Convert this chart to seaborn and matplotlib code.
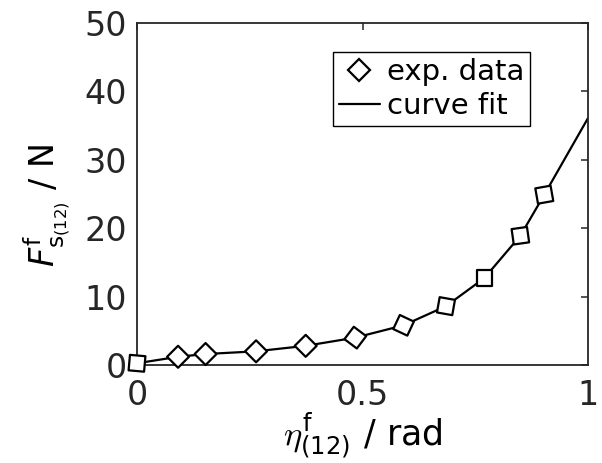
import matplotlib
matplotlib.use("Agg")
import matplotlib.pyplot as plt
from matplotlib.markers import MarkerStyle
from matplotlib.transforms import Affine2D
from matplotlib.lines import Line2D
import seaborn as sns
import pandas as pd

# ---- data ----
eta_exp = [0.0, 0.091, 0.152, 0.264, 0.374, 0.484, 0.591, 0.685, 0.770, 0.850, 0.903]
force_exp = [0.25, 1.2, 1.6, 2.0, 2.8, 4.0, 5.8, 8.6, 12.7, 18.9, 24.9]
eta_fit = [0.0, 0.091, 0.152, 0.264, 0.374, 0.484, 0.591, 0.685, 0.770, 0.850, 0.903, 1.0]
force_fit = [0.25, 1.2, 1.6, 2.0, 2.8, 4.0, 5.8, 8.6, 12.7, 18.9, 24.9, 36.1]
x_ticks = [0, 0.5, 1]
x_ticklabels = ["0", "0.5", "1"]
y_ticks = [0, 10, 20, 30, 40, 50]
y_ticklabels = ["0", "10", "20", "30", "40", "50"]

# style: per-marker rotation of the square markers as they appear in the image
marker_angles = [40, 0, 0, 0, 0, 8, 20, 35, 45, 53, 55]

sns.set_theme(style="white")
plt.rcParams["font.family"] = ["DejaVu Sans"]
plt.rcParams["mathtext.rm"] = "DejaVu Sans"
plt.rcParams["mathtext.it"] = "cmmi10"
plt.rcParams["mathtext.bf"] = "DejaVu Sans:bold"

df_exp = pd.DataFrame({"eta": eta_exp, "F": force_exp})
df_fit = pd.DataFrame({"eta": eta_fit, "F": force_fit})

fig = plt.figure(figsize=(6.02, 4.63), dpi=100)
ax = fig.add_axes([0.2276, 0.2117, 0.7492, 0.7386])

sns.lineplot(data=df_fit, x="eta", y="F", color="black", linewidth=1.6,
             ax=ax, zorder=2, sort=False)
sns.scatterplot(data=df_exp, x="eta", y="F", marker="D", s=125,
                facecolor="white", edgecolor="black", linewidth=1.6,
                ax=ax, zorder=3, clip_on=False)

coll = ax.collections[-1]
paths = []
for a in marker_angles:
    m = MarkerStyle((4, 0, a))
    paths.append(m.get_path().transformed(m.get_transform() + Affine2D().scale(2 ** 0.5)))
coll.set_paths(paths)

ax.set_xlim(0, 1)
ax.set_ylim(0, 50)
ax.set_xticks(x_ticks)
ax.set_xticklabels(x_ticklabels)
ax.set_yticks(y_ticks)
ax.set_yticklabels(y_ticklabels)

dark = "#262626"
for s in ax.spines.values():
    s.set_visible(True)
    s.set_color(dark)
    s.set_linewidth(1.3)
ax.tick_params(axis="both", direction="in", length=5, width=1.1, color=dark,
               labelcolor=dark, labelsize=24, top=True, right=True)
ax.tick_params(axis="x", pad=10)
ax.tick_params(axis="y", pad=7)

ax.set_xlabel(r"$\eta^{\mathrm{f}}_{(12)}$ / rad", fontsize=25, color="black",
              math_fontfamily="custom", labelpad=-1)
ax.set_ylabel(r"$F^{\mathrm{f}}_{\mathrm{s}_{(12)}}$ / N", fontsize=24,
              color="black", math_fontfamily="dejavusans", labelpad=8)
ax.yaxis.label.set_y(0.465)

h_exp = Line2D([], [], marker="D", linestyle="none", markersize=11.2,
               markerfacecolor="white", markeredgecolor="black", markeredgewidth=1.6)
h_fit = Line2D([], [], color="black", linewidth=1.6)
leg = ax.legend([h_exp, h_fit], ["exp. data", "curve fit"],
                loc="upper right", bbox_to_anchor=(0.872, 0.915),
                borderaxespad=0, fontsize=21, frameon=True, fancybox=False,
                edgecolor="black", framealpha=1, borderpad=0.2,
                labelspacing=0.2, handlelength=1.4, handletextpad=0.25,
                labelcolor="black")
leg.get_frame().set_linewidth(1.0)

fig.savefig("out.png", dpi=100)
